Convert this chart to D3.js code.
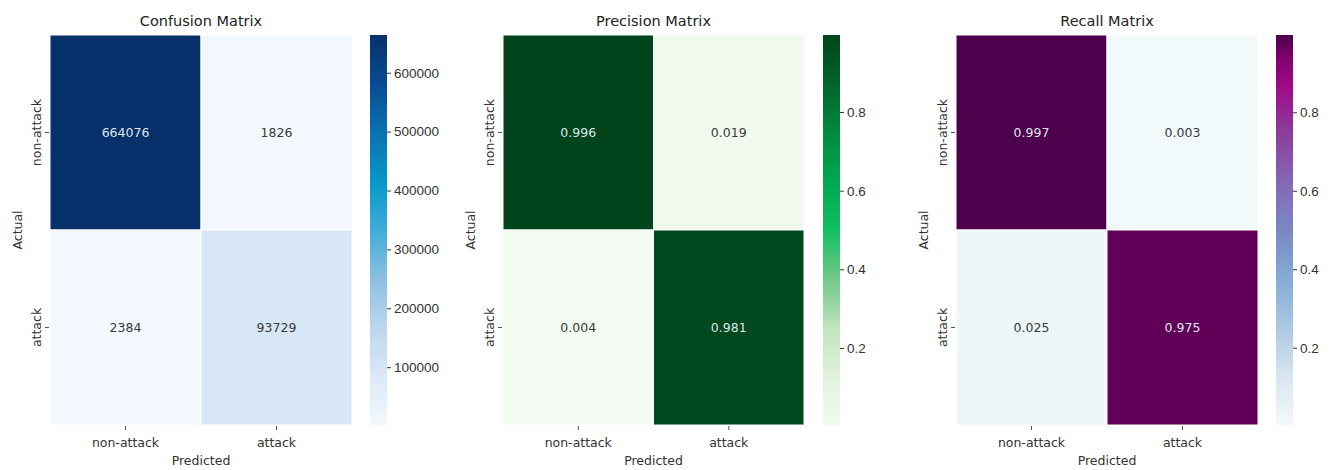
<!DOCTYPE html>
<html>
<head>
<script src="https://d3js.org/d3.v7.min.js"></script>
<style>
body { margin: 0; background: #fff; }
svg { font-family: "DejaVu Sans", sans-serif; }
.title { font-size: 14.5px; fill: #222; }
.lbl { font-size: 12.5px; fill: #333; }
.cell-text { font-size: 12.5px; }
.cbar text { font-size: 13.5px; fill: #333; }
.cbar line { stroke: #333; }
</style>
</head>
<body>
<script>
var classes = ["non-attack", "attack"];

var confusion = [[664076, 1826], [2384, 93729]];
var precision = [[0.996, 0.019], [0.004, 0.981]];
var recall = [[0.997, 0.003], [0.025, 0.975]];

var countTicks = [100000, 200000, 300000, 400000, 500000, 600000];
var rateTicks = [0.2, 0.4, 0.6, 0.8];

var width = 1333, height = 470;
var top0 = 35, bottom0 = 425;

// colour ramps picked off the reference colourbars (low -> high)
function ramp(stops, colors) {
  var s = d3.scaleLinear().domain(stops).range(colors).interpolate(d3.interpolateRgb).clamp(true);
  return function (t) { return s(t); };
}
var blues = ramp([0, 0.125, 0.25, 0.375, 0.5, 0.625, 0.75, 0.875, 1],
  ["#f2f8fd", "#dce9f6", "#bcd6ee", "#8cc0e2", "#40acd8", "#0898c8", "#0a72b0", "#084c92", "#08306b"]);
var greens = ramp([0, 0.125, 0.25, 0.375, 0.5, 0.625, 0.75, 0.875, 1],
  ["#f3faf1", "#e0f2dc", "#c0e4bc", "#70c888", "#10c060", "#00a850", "#008a3c", "#00652a", "#00441b"]);
var bupu = ramp([0, 0.125, 0.25, 0.375, 0.5, 0.625, 0.75, 0.875, 0.95, 1],
  ["#f2f9fb", "#d8e6f0", "#acc8e2", "#84acd6", "#7a88c4", "#8468b4", "#8c3c9c", "#a00888", "#7a0068", "#4d004b"]);

var panels = [
  { title: "Confusion Matrix", data: confusion, ticks: countTicks, interp: blues,
    left: 50, right: 352, cbx: 370, fmt: d3.format("d"), tfmt: d3.format("d") },
  { title: "Precision Matrix", data: precision, ticks: rateTicks, interp: greens,
    left: 503, right: 804, cbx: 823, fmt: d3.format(".3f"), tfmt: d3.format(".1f") },
  { title: "Recall Matrix", data: recall, ticks: rateTicks, interp: bupu,
    left: 956, right: 1258, cbx: 1276, fmt: d3.format(".3f"), tfmt: d3.format(".1f") }
];

var svg = d3.select("body").append("svg")
  .attr("width", width).attr("height", height);

var defs = svg.append("defs");

panels.forEach(function (p, pi) {
  var flat = d3.merge(p.data);
  var vmin = d3.min(flat), vmax = d3.max(flat);
  var color = d3.scaleSequential(p.interp).domain([vmin, vmax]);

  var x = d3.scaleBand().domain(classes).range([p.left, p.right]);
  var y = d3.scaleBand().domain(classes).range([top0, bottom0]);

  var g = svg.append("g");

  var cells = [];
  p.data.forEach(function (row, i) {
    row.forEach(function (v, j) {
      cells.push({ actual: classes[i], pred: classes[j], value: v });
    });
  });

  g.selectAll("rect.cell").data(cells).enter().append("rect")
    .attr("class", "cell")
    .attr("x", function (d) { return x(d.pred); })
    .attr("y", function (d) { return y(d.actual); })
    .attr("width", x.bandwidth())
    .attr("height", y.bandwidth())
    .attr("fill", function (d) { return color(d.value); })
    .attr("stroke", "#fff")
    .attr("stroke-width", 1);

  g.selectAll("text.cell-text").data(cells).enter().append("text")
    .attr("class", "cell-text")
    .attr("x", function (d) { return x(d.pred) + x.bandwidth() / 2; })
    .attr("y", function (d) { return y(d.actual) + y.bandwidth() / 2; })
    .attr("text-anchor", "middle")
    .attr("dy", "0.35em")
    .attr("fill", function (d) {
      var c = d3.rgb(color(d.value));
      var lum = 0.2126 * c.r + 0.7152 * c.g + 0.0722 * c.b;
      return lum < 105 ? "#dde6ee" : "#3a3a3a";
    })
    .text(function (d) { return p.fmt(d.value); });

  // tick marks and category labels
  classes.forEach(function (c) {
    var cx = x(c) + x.bandwidth() / 2;
    g.append("line").attr("x1", cx).attr("x2", cx).attr("y1", bottom0 + 1).attr("y2", bottom0 + 5)
      .attr("stroke", "#555");
    g.append("text").attr("class", "lbl").attr("x", cx).attr("y", 447)
      .attr("text-anchor", "middle").text(c);

    var cy = y(c) + y.bandwidth() / 2;
    g.append("line").attr("x1", p.left - 5).attr("x2", p.left - 1).attr("y1", cy).attr("y2", cy)
      .attr("stroke", "#555");
    g.append("text").attr("class", "lbl")
      .attr("transform", "translate(" + (p.left - 9) + "," + cy + ") rotate(-90)")
      .attr("text-anchor", "middle").text(c);
  });

  g.append("text").attr("class", "lbl")
    .attr("x", (p.left + p.right) / 2).attr("y", 465)
    .attr("text-anchor", "middle").text("Predicted");

  g.append("text").attr("class", "lbl")
    .attr("transform", "translate(" + (p.left - 28) + "," + ((top0 + bottom0) / 2) + ") rotate(-90)")
    .attr("text-anchor", "middle").text("Actual");

  g.append("text").attr("class", "title")
    .attr("x", (p.left + p.right) / 2).attr("y", 26)
    .attr("text-anchor", "middle").text(p.title);

  // colourbar
  var gradId = "grad" + pi;
  var grad = defs.append("linearGradient").attr("id", gradId)
    .attr("x1", "0").attr("y1", "1").attr("x2", "0").attr("y2", "0");
  d3.range(0, 1.0001, 0.025).forEach(function (t) {
    grad.append("stop").attr("offset", t).attr("stop-color", p.interp(t));
  });

  var cbw = 17;
  g.append("rect").attr("x", p.cbx).attr("y", top0)
    .attr("width", cbw).attr("height", bottom0 - top0)
    .attr("fill", "url(#" + gradId + ")");

  var cscale = d3.scaleLinear().domain([vmin, vmax]).range([bottom0, top0]);
  var axis = d3.axisRight(cscale).tickValues(p.ticks).tickSize(4).tickPadding(3)
    .tickFormat(p.tfmt);
  g.append("g").attr("class", "cbar")
    .attr("transform", "translate(" + (p.cbx + cbw) + ",0)")
    .call(axis)
    .call(function (s) { s.select(".domain").remove(); });
});
</script>
</body>
</html>
